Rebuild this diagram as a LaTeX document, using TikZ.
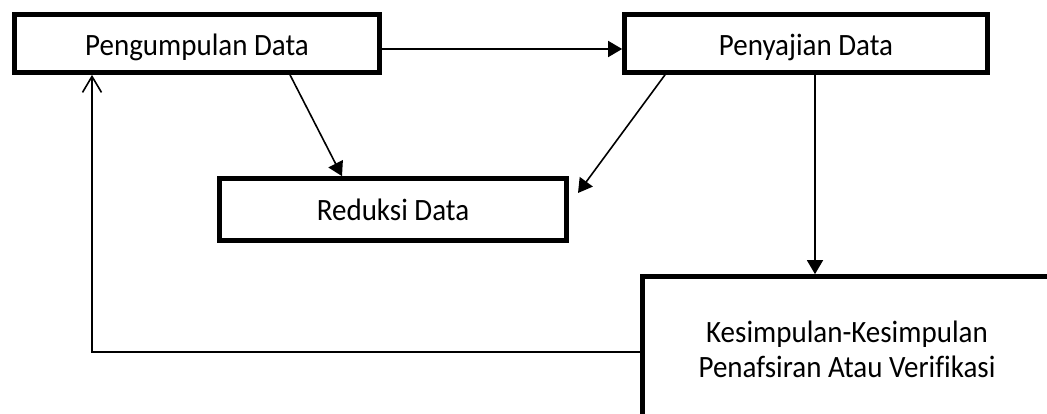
\documentclass[tikz,border=0pt]{standalone}
\usepackage{fontspec}
\usepackage{graphicx}
\setmainfont[Ligatures=NoCommon]{Carlito}
\usetikzlibrary{arrows.meta}

% labels are set slightly taller than the font's natural shape
\newcommand\tallword[1]{\scalebox{1}[1.07]{#1}}

\tikzset{
  stagebox/.style={draw=black, line width=4.7pt, fill=white, inner sep=0pt,
    align=center, font=\fontsize{29}{35}\selectfont},
  flow/.style={line width=1.6pt, -{Triangle[length=14pt,width=16pt]}},
  loopback/.style={line width=1.5pt,
    -{Straight Barb[length=16pt,width=19pt,line width=1.6pt]}},
}

\begin{document}
\begin{tikzpicture}[x=1pt, y=-1pt]
  \useasboundingbox (0,0) rectangle (1047,414);
  \clip (0,0) rectangle (1047,414);

  % stages of the analysis
  \node[stagebox, minimum width=365pt, minimum height=58pt, text height=25pt, text depth=0pt]
    (collect) at (197,43.5) {\tallword{Pengumpulan Data}};
  \node[stagebox, minimum width=363pt, minimum height=58pt, text height=25pt, text depth=0pt]
    (display) at (806,43.5) {\tallword{Penyajian Data}};
  \node[stagebox, minimum width=347pt, minimum height=62pt, text height=23pt, text depth=0pt]
    (reduce) at (393,209.5) {\tallword{Reduksi Data}};
  \node[stagebox, minimum width=409pt, minimum height=145pt]
    (conclude) at (847,349) {\tallword{Kesimpulan-Kesimpulan}\\\tallword{Penafsiran Atau Verifikasi}};

  \coordinate (displayend) at (578,193);
  \coordinate (loopcorner) at (92,352);

  % connectors
  \draw[flow] ([yshift=-5.5pt]collect.east) -- ([yshift=-5.5pt]display.west);
  \draw[flow] ([xshift=93pt]collect.south) -- ([xshift=-51pt]reduce.north);
  \draw[flow] ([xshift=-141pt]display.south) -- (displayend);
  \draw[flow] ([xshift=9pt]display.south) -- ([xshift=9pt]display.south |- conclude.north);
  \draw[loopback] ([yshift=-3pt]conclude.west) -- (loopcorner) -- (loopcorner |- collect.south);
\end{tikzpicture}
\end{document}
